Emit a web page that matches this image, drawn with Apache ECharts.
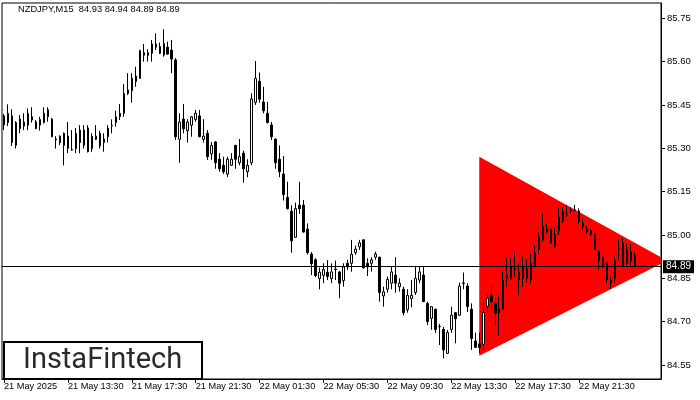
<!DOCTYPE html>
<html>
<head>
<meta charset="utf-8">
<script src="https://cdn.jsdelivr.net/npm/echarts@6/dist/echarts.min.js"></script>
<style>
html,body{margin:0;padding:0;background:#fff;}
#chart{width:700px;height:400px;}
</style>
</head>
<body>
<div id="chart"></div>
<script>
// ---- data (NZDJPY, M15) ----
const symbolTitle = 'NZDJPY,M15  84.93 84.94 84.89 84.89';
const tickLabels = ['21 May 2025','21 May 13:30','21 May 17:30','21 May 21:30','22 May 01:30','22 May 05:30','22 May 09:30','22 May 13:30','22 May 17:30','22 May 21:30'];
const priceTicks = [84.55, 84.70, 84.85, 85.00, 85.15, 85.30, 85.45, 85.60, 85.75];
const lastPrice = 84.89;

const open = [85.412,85.389,85.412,85.310,85.401,85.377,85.380,85.409,85.391,85.380,
85.389,85.433,85.401,85.332,85.342,85.310,85.342,85.296,85.299,85.363,
85.310,85.370,85.299,85.331,85.352,85.320,85.340,85.378,85.389,85.421,
85.421,85.502,85.499,85.531,85.542,85.631,85.631,85.629,85.650,85.652,
85.623,85.650,85.640,85.606,85.331,85.401,85.361,85.380,85.400,85.412,
85.331,85.352,85.281,85.322,85.262,85.241,85.211,85.241,85.310,85.250,
85.283,85.219,85.250,85.459,85.532,85.460,85.421,85.381,85.332,85.262,
85.211,85.130,85.082,84.992,85.103,85.103,85.020,84.934,84.914,84.849,
84.860,84.871,84.849,84.882,84.872,84.842,84.902,84.902,84.939,84.959,
84.983,84.902,84.902,84.923,84.923,84.789,84.812,84.833,84.861,84.821,
84.812,84.741,84.780,84.801,84.844,84.861,84.763,84.711,84.743,84.682,
84.673,84.590,84.673,84.731,84.722,84.832,84.823,84.743,84.633,84.623,
84.622,84.753,84.792,84.763,84.743,84.743,84.849,84.849,84.882,84.872,
84.849,84.881,84.844,84.893,84.950,84.983,85.020,85.020,84.960,85.014,
85.049,85.071,85.082,85.085,85.083,85.040,85.020,85.002,85.003,84.941,
84.923,84.902,84.833,84.850,84.950,84.971,84.902,84.941,84.93];
const close = [85.381,85.421,85.320,85.389,85.368,85.391,85.421,85.398,85.368,85.400,
85.421,85.409,85.340,85.329,85.320,85.352,85.300,85.294,85.352,85.320,
85.363,85.288,85.342,85.342,85.308,85.332,85.370,85.380,85.409,85.410,
85.490,85.490,85.542,85.550,85.638,85.622,85.622,85.661,85.661,85.629,
85.663,85.626,85.609,85.340,85.391,85.368,85.391,85.409,85.421,85.340,
85.342,85.271,85.310,85.250,85.229,85.219,85.262,85.262,85.262,85.271,
85.229,85.241,85.471,85.542,85.470,85.430,85.389,85.340,85.250,85.219,
85.140,85.091,84.980,85.091,85.091,85.010,84.939,84.900,84.859,84.871,
84.881,84.856,84.872,84.880,84.833,84.890,84.890,84.933,84.951,84.973,
84.886,84.890,84.914,84.934,84.801,84.803,84.846,84.872,84.833,84.833,
84.731,84.791,84.791,84.850,84.872,84.769,84.700,84.752,84.673,84.683,
84.602,84.662,84.722,84.710,84.823,84.834,84.752,84.642,84.611,84.611,
84.732,84.781,84.769,84.730,84.731,84.844,84.860,84.890,84.880,84.844,
84.890,84.849,84.902,84.939,84.991,85.029,85.011,84.971,85.002,85.061,
85.081,85.073,85.084,85.087,85.048,85.029,85.011,85.014,84.950,84.911,
84.893,84.844,84.844,84.911,84.952,84.893,84.950,84.911,84.89];
const low = [85.363,85.377,85.308,85.299,85.352,85.363,85.363,85.389,85.366,85.361,
85.386,85.392,85.338,85.299,85.311,85.241,85.283,85.291,85.283,85.283,
85.299,85.286,85.288,85.329,85.299,85.288,85.320,85.352,85.375,85.398,
85.409,85.484,85.458,85.513,85.540,85.600,85.600,85.600,85.640,85.626,
85.617,85.623,85.560,85.329,85.250,85.352,85.320,85.340,85.392,85.338,
85.320,85.260,85.260,85.229,85.219,85.211,85.200,85.240,85.229,85.241,
85.181,85.200,85.241,85.450,85.458,85.421,85.386,85.329,85.229,85.200,
85.119,85.088,84.939,84.990,85.073,85.008,84.932,84.861,84.854,84.812,
84.833,84.844,84.833,84.844,84.781,84.821,84.879,84.873,84.931,84.948,
84.883,84.858,84.873,84.914,84.769,84.752,84.800,84.812,84.800,84.804,
84.721,84.731,84.749,84.792,84.833,84.768,84.688,84.672,84.661,84.619,
84.573,84.589,84.661,84.625,84.720,84.812,84.733,84.602,84.609,84.592,
84.602,84.730,84.740,84.688,84.650,84.742,84.821,84.844,84.856,84.791,
84.821,84.835,84.833,84.892,84.934,84.977,85.006,84.969,84.954,85.000,
85.042,85.063,85.073,85.081,85.038,85.017,85.006,84.996,84.948,84.881,
84.885,84.835,84.812,84.835,84.914,84.891,84.896,84.893,84.89];
const high = [85.419,85.452,85.435,85.394,85.415,85.421,85.438,85.442,85.398,85.409,
85.442,85.442,85.405,85.342,85.345,85.355,85.391,85.363,85.370,85.380,
85.380,85.380,85.352,85.380,85.361,85.352,85.380,85.400,85.430,85.453,
85.522,85.560,85.560,85.582,85.641,85.661,85.643,85.675,85.698,85.666,
85.712,85.669,85.675,85.612,85.421,85.453,85.401,85.412,85.433,85.433,
85.401,85.363,85.322,85.325,85.283,85.271,85.271,85.283,85.312,85.332,
85.292,85.262,85.490,85.602,85.562,85.513,85.461,85.391,85.333,85.310,
85.273,85.184,85.103,85.112,85.184,85.121,85.040,84.941,84.920,84.887,
84.902,84.913,84.902,84.911,84.875,84.902,84.914,84.983,84.963,84.983,
84.985,84.919,84.923,84.942,84.925,84.821,84.856,84.890,84.923,84.850,
84.821,84.812,84.844,84.893,84.890,84.890,84.769,84.753,84.745,84.692,
84.682,84.671,84.752,84.733,84.835,84.870,84.833,84.763,84.662,84.662,
84.765,84.798,84.827,84.769,84.792,84.873,84.919,84.919,84.939,84.902,
84.925,84.916,84.934,84.962,85.008,85.073,85.040,85.022,85.026,85.092,
85.096,85.104,85.096,85.104,85.092,85.058,85.031,85.021,85.005,84.950,
84.925,84.904,84.856,84.925,84.983,84.992,84.969,84.969,84.94];

// symmetrical triangle pattern: vertices as [bar index, price]
const triangleBars = [119, 119, 166];
const trianglePrices = [85.271, 84.582, 84.911];

// category slots (bars + empty space to the right edge)
const slotCount = 165;
const categories = [];
for (let i = 0; i < slotCount; i++) categories.push(String(i));

const candleData = open.map((o, i) => [o, close[i], low[i], high[i]]);

function clipPolygon(points, rect) {
  const edges = [
    p => p[0] >= rect.x, p => p[0] <= rect.x + rect.width,
    p => p[1] >= rect.y, p => p[1] <= rect.y + rect.height
  ];
  const inter = [
    (a, b) => { const x = rect.x; const t = (x - a[0]) / (b[0] - a[0]); return [x, a[1] + t * (b[1] - a[1])]; },
    (a, b) => { const x = rect.x + rect.width; const t = (x - a[0]) / (b[0] - a[0]); return [x, a[1] + t * (b[1] - a[1])]; },
    (a, b) => { const y = rect.y; const t = (y - a[1]) / (b[1] - a[1]); return [a[0] + t * (b[0] - a[0]), y]; },
    (a, b) => { const y = rect.y + rect.height; const t = (y - a[1]) / (b[1] - a[1]); return [a[0] + t * (b[0] - a[0]), y]; }
  ];
  let out = points;
  for (let e = 0; e < 4; e++) {
    const inp = out; out = [];
    for (let i = 0; i < inp.length; i++) {
      const cur = inp[i], prev = inp[(i + inp.length - 1) % inp.length];
      const cIn = edges[e](cur), pIn = edges[e](prev);
      if (cIn) { if (!pIn) out.push(inter[e](prev, cur)); out.push(cur); }
      else if (pIn) out.push(inter[e](prev, cur));
    }
  }
  return out;
}

const FONT = '"Liberation Sans", Arial, sans-serif';
const chart = echarts.init(document.getElementById('chart'), null, {renderer: 'canvas'});
chart.setOption({
  animation: false,
  backgroundColor: '#ffffff',
  grid: {left: 2, top: 3, right: 39, bottom: 21, show: true, borderColor: '#000', borderWidth: 1, backgroundColor: 'transparent'},
  xAxis: {
    type: 'category', data: categories, boundaryGap: true, min: 0, max: slotCount - 1,
    axisLine: {show: true, lineStyle: {color: '#000', width: 1}},
    axisTick: {show: true, alignWithLabel: true, length: 4, lineStyle: {color: '#000'},
      interval: (idx) => idx % 16 === 0 && idx / 16 < tickLabels.length},
    axisLabel: {show: true, align: 'left', margin: 3, color: '#000', fontFamily: FONT, fontSize: 9.2,
      interval: (idx) => idx % 16 === 0 && idx / 16 < tickLabels.length,
      formatter: (v, idx) => tickLabels[idx / 16] || ''},
    splitLine: {show: false}
  },
  yAxis: {
    type: 'value', position: 'right', min: 84.5014, max: 85.8029, scale: true,
    axisLine: {show: true, lineStyle: {color: '#000', width: 1}},
    axisTick: {show: true, length: 4, lineStyle: {color: '#000'}, customValues: priceTicks},
    axisLabel: {show: true, margin: 6, color: '#000', fontFamily: FONT, fontSize: 9.5,
      customValues: priceTicks, formatter: v => v.toFixed(2)},
    splitLine: {show: false}
  },
  series: [
    {
      type: 'custom', z: 1, silent: true,
      data: [[triangleBars[0], trianglePrices[0]]],
      renderItem: function (params, api) {
        const pts = triangleBars.map((b, i) => api.coord([b, trianglePrices[i]]));
        const cs = params.coordSys;
        const clipped = clipPolygon(pts, {x: cs.x, y: cs.y, width: cs.width, height: cs.height});
        return {type: 'polygon', shape: {points: clipped}, style: {fill: '#ff0000', stroke: null}};
      }
    },
    {
      type: 'candlestick', z: 2, barWidth: 2,
      data: candleData,
      itemStyle: {color: '#ffffff', color0: '#000000', borderColor: '#000000', borderColor0: '#000000', borderColorDoji: '#000000', borderWidth: 1},
      markLine: {
        silent: true, symbol: ['none', 'none'], animation: false,
        lineStyle: {color: '#000', width: 1, type: 'solid'},
        label: {show: true, position: 'end', distance: 2, formatter: () => lastPrice.toFixed(2),
          backgroundColor: '#000', color: '#fff', fontFamily: FONT, fontSize: 10, padding: [2, 3, 1, 3]},
        data: [{yAxis: lastPrice}]
      }
    }
  ],
  graphic: [
    {type: 'text', left: 18, top: 5, z: 10, style: {text: symbolTitle, fill: '#000', font: '9.3px ' + FONT}},
    {type: 'group', left: 3, top: 341, z: 20, children: [
      {type: 'rect', shape: {x: 0, y: 0, width: 198, height: 37}, style: {fill: '#fff', stroke: '#000', lineWidth: 2}},
      {type: 'text', x: 19, y: 19, style: {text: 'InstaFintech', fill: '#2a2a2a', font: '29px Roboto, "Open Sans", sans-serif', verticalAlign: 'middle'}}
    ]}
  ]
});
</script>
</body>
</html>
